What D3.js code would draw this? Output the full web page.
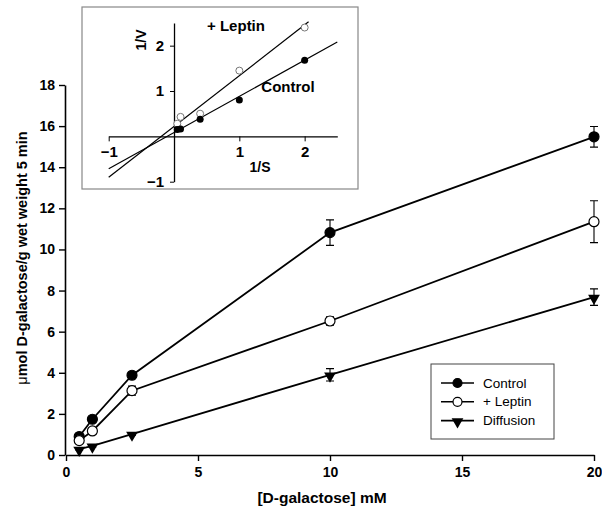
<!DOCTYPE html>
<html>
<head>
<meta charset="utf-8">
<script src="https://cdn.jsdelivr.net/npm/d3@7"></script>
<style>
  body { margin: 0; background: #fff; }
  svg { font-family: "Liberation Sans", Arial, sans-serif; }
</style>
</head>
<body>
<svg width="602" height="520"></svg>
<script>
// main chart data
const conc = [0.5, 1, 2.5, 10, 20];
const control = [0.9, 1.74, 3.88, 10.82, 15.48];
const controlErr = [0.06, 0.1, 0.12, 0.62, 0.5];
const leptin = [0.7, 1.17, 3.13, 6.52, 11.35];
const leptinErr = [0.1, 0.15, 0.22, 0.2, 1.02];
const diffusion = [0.28, 0.44, 1.02, 3.9, 7.68];
const diffusionErr = [0.04, 0.05, 0.06, 0.3, 0.4];
const xTicks = [0, 5, 10, 15, 20];
const yTicks = [0, 2, 4, 6, 8, 10, 12, 14, 16, 18];

// inset (double reciprocal) data
const invS = [0.05, 0.1, 0.4, 1, 2];
const invVControl = [0.15, 0.16, 0.38, 0.8, 1.68];
const invVLeptin = [0.28, 0.43, 0.5, 1.45, 2.4];
const fitSlope = [0.798, 1.12];        // control, leptin
const fitIntercept = [0.084, 0.22];
const fitXEnd = [2.5, 2.06];
const insetXTicks = [-1, 1, 2];
const insetYTicks = [-1, 1, 2];

const svg = d3.select('svg');

const x = d3.scaleLinear().domain([0, 20]).range([66, 594]);
const y = d3.scaleLinear().domain([0, 18]).range([455, 85]);

const boldText = size => g => g.selectAll('text').attr('font-size', size).attr('font-weight', 'bold').attr('fill', '#000');

// axes
svg.append('g')
  .attr('transform', 'translate(0,455)')
  .call(d3.axisBottom(x).tickValues(xTicks).tickSize(6).tickPadding(6).tickSizeOuter(0))
  .call(g => g.select('.domain').attr('stroke-width', 1.6))
  .call(g => g.selectAll('.tick line').attr('stroke-width', 1.4))
  .call(boldText(14));

svg.append('g')
  .attr('transform', 'translate(65,0)')
  .call(d3.axisLeft(y).tickValues(yTicks).tickSize(6).tickPadding(4).tickSizeOuter(0))
  .call(g => g.select('.domain').attr('stroke-width', 1.6))
  .call(g => g.selectAll('.tick line').attr('stroke-width', 1.4))
  .call(boldText(14));

svg.append('text')
  .attr('x', 322).attr('y', 503)
  .attr('text-anchor', 'middle')
  .attr('font-size', 15.5).attr('font-weight', 'bold')
  .text('[D-galactose] mM');

const yTitle = svg.append('text')
  .attr('transform', 'translate(27,258) rotate(-90)')
  .attr('text-anchor', 'middle')
  .attr('font-size', 14.5).attr('font-weight', 'bold');
yTitle.append('tspan').attr('font-weight', 'normal').text('μ');
yTitle.append('tspan').text('mol D-galactose/g wet weight 5 min');

// series
const series = [
  { name: 'Control', vals: control, err: controlErr, shape: 'circle', fill: '#000' },
  { name: '+ Leptin', vals: leptin, err: leptinErr, shape: 'circle', fill: '#fff' },
  { name: 'Diffusion', vals: diffusion, err: diffusionErr, shape: 'triangle', fill: '#000' }
];

const line = d3.line().x(d => x(d[0])).y(d => y(d[1]));
const tri = d3.symbol().type(d3.symbolTriangle).size(60);

function marker(g, s, cx, cy, r) {
  if (s.shape === 'circle') {
    g.append('circle').attr('cx', cx).attr('cy', cy).attr('r', r)
      .attr('fill', s.fill).attr('stroke', '#000').attr('stroke-width', 1.2);
  } else {
    g.append('path').attr('d', tri)
      .attr('transform', `translate(${cx},${cy + 1}) rotate(180)`)
      .attr('fill', '#000');
  }
}

series.forEach(s => {
  const pts = conc.map((c, i) => [c, s.vals[i], s.err[i]]);
  const g = svg.append('g');
  g.selectAll('.eb').data(pts).join('path')
    .attr('fill', 'none').attr('stroke', '#000').attr('stroke-width', 1.1)
    .attr('d', d => {
      const cx = x(d[0]), t = y(d[1] + d[2]), b = y(d[1] - d[2]);
      return `M${cx - 4},${t}H${cx + 4}M${cx},${t}V${b}M${cx - 4},${b}H${cx + 4}`;
    });
  g.append('path').datum(pts).attr('d', line)
    .attr('fill', 'none').attr('stroke', '#000').attr('stroke-width', 1.8);
  pts.forEach(d => marker(g, s, x(d[0]), y(d[1]), 5));
});

// legend
const lg = svg.append('g');
lg.append('rect').attr('x', 431).attr('y', 364).attr('width', 123).attr('height', 75)
  .attr('fill', '#fff').attr('stroke', '#444').attr('stroke-width', 1);
series.forEach((s, i) => {
  const ly = 383 + i * 18.8;
  lg.append('line').attr('x1', 441).attr('x2', 474).attr('y1', ly).attr('y2', ly)
    .attr('stroke', '#000').attr('stroke-width', 1.6);
  marker(lg, s, 457.5, ly, 4.5);
  lg.append('text').attr('x', 483).attr('y', ly + 4.5)
    .attr('font-size', 13.5).text(s.name);
});

// inset
const ix = d3.scaleLinear().domain([-1, 2.5]).range([108.7, 337.3]);
const iy = d3.scaleLinear().domain([-1, 2.5]).range([181.7, 23]);

svg.append('rect').attr('x', 82).attr('y', 7).attr('width', 276).attr('height', 182)
  .attr('fill', '#fff').attr('stroke', '#888').attr('stroke-width', 1.2);

svg.append('g')
  .attr('transform', `translate(0,${iy(0)})`)
  .call(d3.axisBottom(ix).tickValues(insetXTicks).tickFormat(d3.format('d')).tickSize(5).tickPadding(5).tickSizeOuter(0))
  .call(g => g.select('.domain').attr('stroke-width', 1.3))
  .call(boldText(15));

svg.append('g')
  .attr('transform', `translate(${ix(0)},0)`)
  .call(d3.axisLeft(iy).tickValues(insetYTicks).tickFormat(d3.format('d')).tickSize(4).tickPadding(6).tickSizeOuter(0))
  .call(g => g.select('.domain').attr('stroke-width', 1.3))
  .call(boldText(15));

// fitted lines
[0, 1].forEach(k => {
  const xs = [-1, fitXEnd[k]];
  svg.append('line')
    .attr('x1', ix(xs[0])).attr('y1', iy(fitIntercept[k] + fitSlope[k] * xs[0]))
    .attr('x2', ix(xs[1])).attr('y2', iy(fitIntercept[k] + fitSlope[k] * xs[1]))
    .attr('stroke', '#000').attr('stroke-width', 1.2);
});

svg.append('g').selectAll('circle').data(invS.map((v, i) => [v, invVLeptin[i]])).join('circle')
  .attr('cx', d => ix(d[0])).attr('cy', d => iy(d[1])).attr('r', 3.5)
  .attr('fill', '#fff').attr('stroke', '#777').attr('stroke-width', 1);
svg.append('g').selectAll('circle').data(invS.map((v, i) => [v, invVControl[i]])).join('circle')
  .attr('cx', d => ix(d[0])).attr('cy', d => iy(d[1])).attr('r', 3.5)
  .attr('fill', '#000');

svg.append('text').attr('x', 236).attr('y', 31).attr('text-anchor', 'middle')
  .attr('font-size', 15).attr('font-weight', 'bold').text('+ Leptin');
svg.append('text').attr('x', 288).attr('y', 92).attr('text-anchor', 'middle')
  .attr('font-size', 15).attr('font-weight', 'bold').text('Control');
svg.append('text').attr('x', 260).attr('y', 172).attr('text-anchor', 'middle')
  .attr('font-size', 14).attr('font-weight', 'bold').text('1/S');
svg.append('text').attr('transform', 'translate(146,40) rotate(-90)').attr('text-anchor', 'middle')
  .attr('font-size', 14).attr('font-weight', 'bold').text('1/V');
</script>
</body>
</html>
